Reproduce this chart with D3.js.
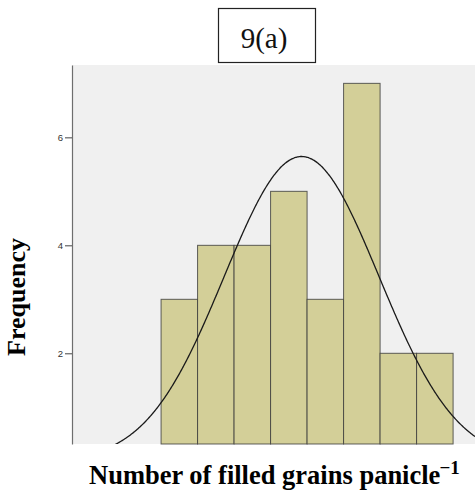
<!DOCTYPE html>
<html>
<head>
<meta charset="utf-8">
<script src="https://cdn.jsdelivr.net/npm/d3@7"></script>
<style>
  html, body { margin: 0; padding: 0; background: #ffffff; }
  svg { display: block; }
</style>
</head>
<body>
<svg id="chart" width="475" height="490"></svg>
<script>
// Histogram bins (lower edge, in bin-width units) and their frequencies
const binStarts = [0, 1, 2, 3, 4, 5, 6, 7];
const counts = [3, 4, 4, 5, 3, 7, 2, 2];
const binWidth = 1;

// Fitted normal curve parameters (same units as the bins)
const fitMean = 3.85;
const fitSd = 2.12;

// Axis ticks and labels
const yTicks = [2, 4, 6];
const titleText = "9(a)";
const yLabel = "Frequency";
const xLabel = "Number of filled grains panicle";
const xLabelSup = "\u22121";

const svg = d3.select("#chart");

const plot = { left: 72, right: 475, top: 65, bottom: 444 };

const x = d3.scaleLinear().domain([-2.44, 8.6]).range([plot.left, plot.right]);
const y = d3.scaleLinear().domain([0.32, 7.34]).range([plot.bottom, plot.top]);

// Plot background
svg.append("rect")
  .attr("x", plot.left).attr("y", plot.top)
  .attr("width", plot.right - plot.left).attr("height", plot.bottom - plot.top)
  .attr("fill", "#f0f0f0");

svg.append("defs").append("clipPath").attr("id", "plotClip")
  .append("rect")
  .attr("x", plot.left).attr("y", plot.top)
  .attr("width", plot.right - plot.left).attr("height", plot.bottom - plot.top);

// Bars
const bars = binStarts.map((b, i) => ({ x0: b, x1: b + binWidth, n: counts[i] }));
svg.append("g")
  .selectAll("rect")
  .data(bars)
  .join("rect")
  .attr("x", d => x(d.x0))
  .attr("y", d => y(d.n))
  .attr("width", d => x(d.x1) - x(d.x0))
  .attr("height", d => plot.bottom - y(d.n))
  .attr("fill", "#d3cf98")
  .attr("stroke", "#3a3a3a")
  .attr("stroke-opacity", 0.8)
  .attr("stroke-width", 1);

// Normal curve scaled to counts
const total = d3.sum(counts);
const normal = v => total * binWidth / (fitSd * Math.sqrt(2 * Math.PI)) *
  Math.exp(-((v - fitMean) ** 2) / (2 * fitSd * fitSd));
const curvePts = d3.range(-2.44, 8.61, 0.02).map(v => [v, normal(v)]);
svg.append("path")
  .attr("clip-path", "url(#plotClip)")
  .attr("d", d3.line().x(d => x(d[0])).y(d => y(d[1])).curve(d3.curveBasis)(curvePts))
  .attr("fill", "none")
  .attr("stroke", "#1a1a1a")
  .attr("stroke-width", 1.3);

// Y axis
const yAxis = svg.append("g")
  .attr("transform", `translate(${plot.left},0)`)
  .call(d3.axisLeft(y).tickValues(yTicks).tickFormat(d3.format("d"))
    .tickSize(7).tickPadding(2).tickSizeOuter(0));
yAxis.select(".domain").attr("stroke", "#6e6e6e").attr("stroke-width", 1.2);
yAxis.selectAll(".tick line").attr("stroke", "#444");
yAxis.selectAll(".tick text")
  .attr("fill", "#333")
  .style("font-family", "Arial, 'Liberation Sans', sans-serif")
  .style("font-size", "9.5px");

// Title box
svg.append("rect")
  .attr("x", 218.5).attr("y", 8.5)
  .attr("width", 97).attr("height", 54)
  .attr("fill", "#ffffff")
  .attr("stroke", "#222").attr("stroke-width", 1.2);
svg.append("text")
  .attr("x", 264).attr("y", 48)
  .attr("text-anchor", "middle")
  .style("font-family", "'Liberation Serif', 'Times New Roman', serif")
  .style("font-size", "29px")
  .attr("fill", "#111")
  .text(titleText);

// Y axis label
svg.append("text")
  .attr("transform", "translate(25,297) rotate(-90)")
  .attr("text-anchor", "middle")
  .style("font-family", "'Liberation Serif', 'Times New Roman', serif")
  .style("font-size", "26px")
  .style("font-weight", "bold")
  .attr("fill", "#000")
  .text(yLabel);

// X axis label with superscript
const xl = svg.append("text")
  .attr("x", 89).attr("y", 484)
  .style("font-family", "'Liberation Serif', 'Times New Roman', serif")
  .style("font-size", "26.5px")
  .style("font-weight", "bold")
  .attr("fill", "#000");
xl.append("tspan").text(xLabel);
xl.append("tspan")
  .attr("dx", -1)
  .attr("dy", -10)
  .style("font-size", "19px")
  .text(xLabelSup);
</script>
</body>
</html>
